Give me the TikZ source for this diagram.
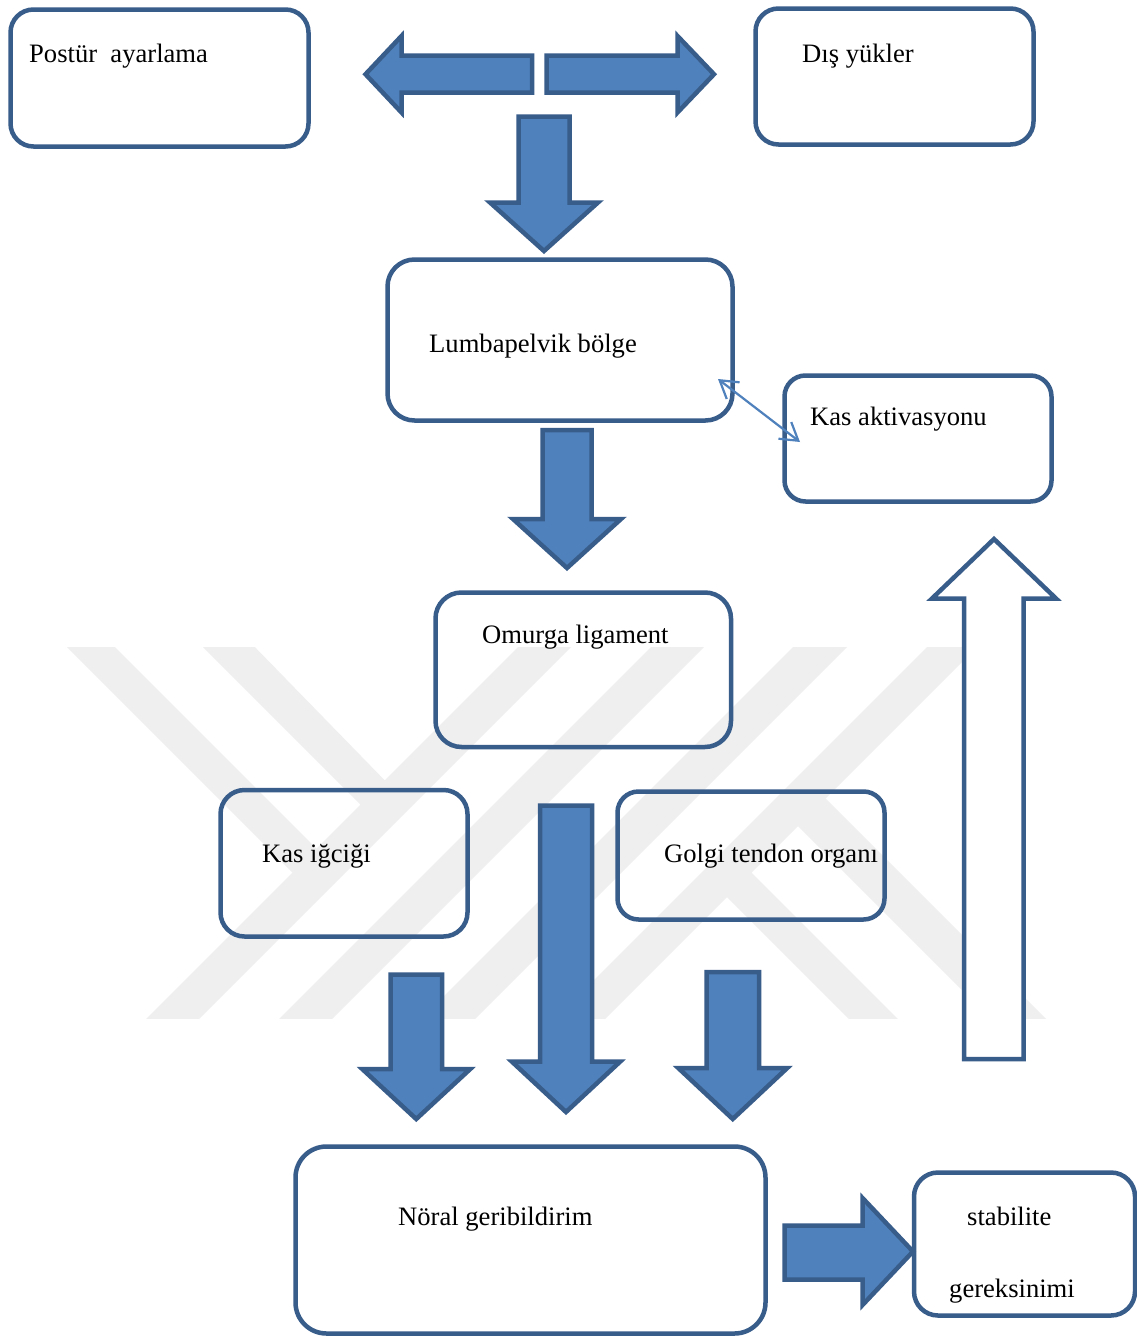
\documentclass[tikz,border=0pt]{standalone}
\usepackage{fontspec}
\setmainfont{Liberation Serif}
\usetikzlibrary{arrows.meta}
\definecolor{boxblue}{RGB}{56,93,138}
\definecolor{fillblue}{RGB}{79,129,189}
\definecolor{wmgrey}{RGB}{239,239,239}
\newcommand{\DownBlock}[6]{%
  \draw[blockarrow] ({#1-#2},#3) -- ({#1+#2},#3) -- ({#1+#2},#4) -- ({#1+#5},#4)
    -- (#1,#6) -- ({#1-#5},#4) -- ({#1-#2},#4) -- cycle;}
\begin{document}
\begin{tikzpicture}[x=1pt,y=-1pt,
  box/.style={draw=boxblue, line width=4.5pt, inner sep=0pt, outer sep=0pt},
  blockarrow/.style={draw=boxblue, fill=fillblue, line width=4.5pt, line join=miter},
  hollowarrow/.style={draw=boxblue, fill=white, line width=4.5pt, line join=miter},
  lbl/.style={anchor=base west, inner sep=0pt, font=\fontsize{26.6}{30}\selectfont},
  link/.style={draw=fillblue, line width=2.2pt,
    {Straight Barb[length=17pt,width=21pt]}-{Straight Barb[length=17pt,width=21pt]}}
]
\useasboundingbox (0,0) rectangle (1137,1341);
\fill[white] (0,0) rectangle (1137,1341);

% watermark
\begin{scope}
\clip (0,647) rectangle (1137,1018);
\fill[wmgrey] (525,640) -- (578,640) -- (193,1025) -- (140,1025) -- cycle;
\fill[wmgrey] (658,640) -- (711,640) -- (326,1025) -- (273,1025) -- cycle;
\fill[wmgrey] (800,640) -- (854,640) -- (469,1025) -- (415,1025) -- cycle;
\fill[wmgrey] (934,640) -- (984,640) -- (599,1025) -- (549,1025) -- cycle;
\fill[wmgrey] (60,640) -- (108,640) -- (329,861) -- (305,885) -- cycle;
\fill[wmgrey] (196,640) -- (248,640) -- (399,795) -- (373,817) -- cycle;
\fill[wmgrey] (785.5,813.5) -- (813,786) -- (1052,1025) -- (997,1025) -- cycle;
\fill[wmgrey] (714.5,884.5) -- (739,860) -- (904,1025) -- (855,1025) -- cycle;
\end{scope}

% boxes
\node[box, rounded corners=23pt, minimum width=298pt, minimum height=137pt] (postur) at (159.5,78) {};
\node[box, rounded corners=23pt, minimum width=278pt, minimum height=136pt] (dis) at (894.5,76.5) {};
\node[box, rounded corners=27pt, minimum width=345pt, minimum height=161pt] (lumb) at (560,340) {};
\node[box, rounded corners=21pt, minimum width=267pt, minimum height=126pt] (kasakt) at (918,438.5) {};
\node[box, rounded corners=26pt, minimum width=295.5pt, minimum height=154.5pt] (omurga) at (583.25,669.75) {};
\node[box, rounded corners=24pt, minimum width=247pt, minimum height=146.5pt] (kasig) at (344,863.25) {};
\node[box, rounded corners=21pt, minimum width=267pt, minimum height=128pt] (golgi) at (751,855.5) {};
\node[box, rounded corners=31pt, minimum width=470pt, minimum height=187pt] (noral) at (530.5,1240) {};
\node[box, rounded corners=24pt, minimum width=221pt, minimum height=143pt] (stab) at (1024.5,1244) {};

% labels
\node[lbl] (tpostur) at (29,62) {Postür\ \ ayarlama};
\node[lbl] (tdis) at (802,62) {Dış yükler};
\node[lbl] (tlumb) at (429,352) {Lumbapelvik bölge};
\node[lbl] (tkasakt) at (810,425) {Kas aktivasyonu};
\node[lbl] (tomurga) at (482,643) {Omurga ligament};
\node[lbl] (tkasig) at (262,862) {Kas iğciği};
\node[lbl] (tgolgi) at (664,862) {Golgi tendon organı};
\node[lbl] (tnoral) at (398,1225) {Nöral geribildirim};
\node[lbl] (tstab) at (967,1225) {stabilite};
\node[lbl] (tgerek) at (949,1297) {gereksinimi};

% block arrows
\draw[blockarrow] (532,55.5) -- (401.5,55.5) -- (401.5,36) -- (365.5,74.25)
  -- (401.5,112.5) -- (401.5,92.5) -- (532,92.5) -- cycle;
\draw[blockarrow] (546.5,55.5) -- (677.5,55.5) -- (677.5,36) -- (714,74.25)
  -- (677.5,112.5) -- (677.5,92.5) -- (546.5,92.5) -- cycle;
\DownBlock{544}{25.5}{116.5}{202.5}{54}{251}
\DownBlock{567}{24.5}{430}{519}{54}{568}
\DownBlock{566}{26}{805.5}{1061.5}{54.25}{1112}
\DownBlock{416.25}{25.75}{974.5}{1069}{54}{1119}
\DownBlock{732.75}{26.25}{972}{1068}{54.5}{1119}
\draw[blockarrow] (784.5,1225.5) -- (862.5,1225.5) -- (862.5,1198) -- (913,1251.5)
  -- (862.5,1305) -- (862.5,1279.5) -- (784.5,1279.5) -- cycle;
\draw[hollowarrow] (964,1059) -- (964,598.5) -- (932,598.5) -- (994,539)
  -- (1056,598.5) -- (1023.5,598.5) -- (1023.5,1059) -- cycle;

% thin two-way link
\coordinate (la) at (718,379);
\coordinate (lb) at (800,442);
\draw[link] (la) -- (lb);
\end{tikzpicture}
\end{document}
